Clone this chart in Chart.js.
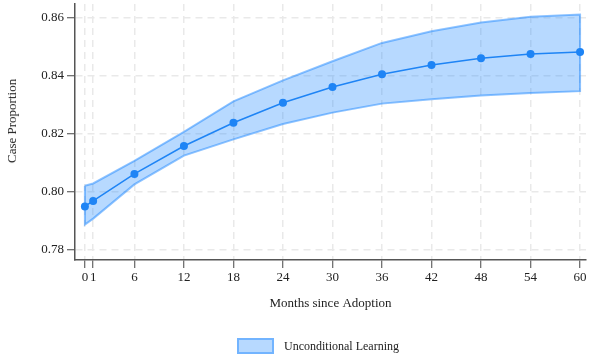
<!DOCTYPE html>
<html>
<head>
<meta charset="utf-8">
<script src="https://cdn.jsdelivr.net/npm/chart.js@4/dist/chart.umd.min.js"></script>
<style>
  html, body { margin: 0; padding: 0; background: #fff; }
  #wrap { position: relative; width: 590px; height: 358px; }
  #legend { position: absolute; left: 237px; top: 338px; display: flex; align-items: center;
            font-family: "Liberation Serif", "Times New Roman", serif; font-size: 12px; color: #222; }
  #legend .swatch { width: 33px; height: 12px; background: rgba(30,136,255,0.32);
                    border: 2px solid rgba(30,136,255,0.45); margin-right: 10px; }
  #ytitle { position: absolute; left: 12px; top: 121px; transform: translate(-50%, -50%) rotate(-90deg);
            white-space: nowrap; font-family: "Liberation Serif", "Times New Roman", serif;
            font-size: 13px; color: #222; }
</style>
</head>
<body>
<div id="wrap">
  <canvas id="c" width="590" height="358"></canvas>
  <div id="ytitle">Case Proportion</div>
  <div id="legend"><span class="swatch"></span><span>Unconditional Learning</span></div>
</div>
<script>
// Months since adoption and estimated case proportion with its confidence band
const months = [0, 1, 6, 12, 18, 24, 30, 36, 42, 48, 54, 60];
const estimate = [0.7950, 0.7969, 0.8062, 0.8158, 0.8238, 0.8307, 0.8361, 0.8405, 0.8437, 0.8460, 0.8475, 0.8482];
const upperBound = [0.8021, 0.8029, 0.8107, 0.8207, 0.8312, 0.8384, 0.8450, 0.8513, 0.8553, 0.8583, 0.8603, 0.8611];
const lowerBound = [0.7888, 0.7908, 0.8026, 0.8125, 0.8181, 0.8234, 0.8273, 0.8304, 0.8319, 0.8332, 0.8341, 0.8347];
const xTickValues = [0, 1, 6, 12, 18, 24, 30, 36, 42, 48, 54, 60];
const yTickValues = [0.78, 0.80, 0.82, 0.84, 0.86];

const serif = '"Liberation Serif", "Times New Roman", serif';

// Closed outline of the band: upper edge left to right, then lower edge back
const bandShape = months.map((m, i) => ({ x: m, y: upperBound[i] }))
  .concat(months.slice().reverse().map((m, j) => ({ x: m, y: lowerBound[months.length - 1 - j] })));
bandShape.push({ x: months[0], y: upperBound[0] });

const estimatePoints = months.map((m, i) => ({ x: m, y: estimate[i] }));

const gridCommon = {
  color: '#e9e9e9',
  lineWidth: 1.5,
  tickColor: '#444',
  tickLength: 8,
  tickWidth: 1,
  tickBorderDash: []
};

new Chart(document.getElementById('c'), {
  type: 'line',
  data: {
    datasets: [
      {
        label: 'Unconditional Learning',
        data: bandShape,
        fill: 'shape',
        backgroundColor: 'rgba(30,136,255,0.32)',
        borderColor: 'rgba(30,136,255,0.5)',
        borderWidth: 2,
        pointRadius: 0,
        tension: 0,
        order: 2
      },
      {
        label: 'Estimate',
        data: estimatePoints,
        fill: false,
        borderColor: '#1e84f5',
        backgroundColor: '#1e84f5',
        borderWidth: 1.5,
        pointRadius: 4,
        pointBorderWidth: 0,
        tension: 0,
        order: 1
      }
    ]
  },
  options: {
    responsive: false,
    animation: false,
    layout: { padding: { top: 3, left: 0, right: 0, bottom: 43 } },
    plugins: { legend: { display: false }, tooltip: { enabled: false } },
    scales: {
      x: {
        type: 'linear',
        min: -1.2,
        max: 60.72,
        afterBuildTicks: (s) => { s.ticks = xTickValues.map(v => ({ value: v })); },
        afterFit: (s) => { s.height = 55; s.paddingLeft = 0; s.paddingRight = 0; },
        grid: gridCommon,
        border: { display: true, color: '#555', width: 1.5, dash: [7, 5] },
        ticks: {
          padding: 2,
          color: '#222',
          font: { family: serif, size: 13 },
          maxRotation: 0,
          autoSkip: false,
          callback: (v) => String(v)
        },
        title: {
          display: true,
          text: 'Months since Adoption',
          color: '#222',
          font: { family: serif, size: 13 },
          padding: { top: 4, bottom: 4 }
        }
      },
      y: {
        type: 'linear',
        min: 0.77656,
        max: 0.8647,
        afterBuildTicks: (s) => { s.ticks = yTickValues.map(v => ({ value: v })); },
        afterFit: (s) => { s.width = 75; s.paddingTop = 0; s.paddingBottom = 0; },
        grid: gridCommon,
        border: { display: true, color: '#555', width: 1.5, dash: [7, 5] },
        ticks: {
          padding: 3,
          color: '#222',
          font: { family: serif, size: 13 },
          callback: (v) => v.toFixed(2)
        }
      }
    }
  }
});
</script>
</body>
</html>
